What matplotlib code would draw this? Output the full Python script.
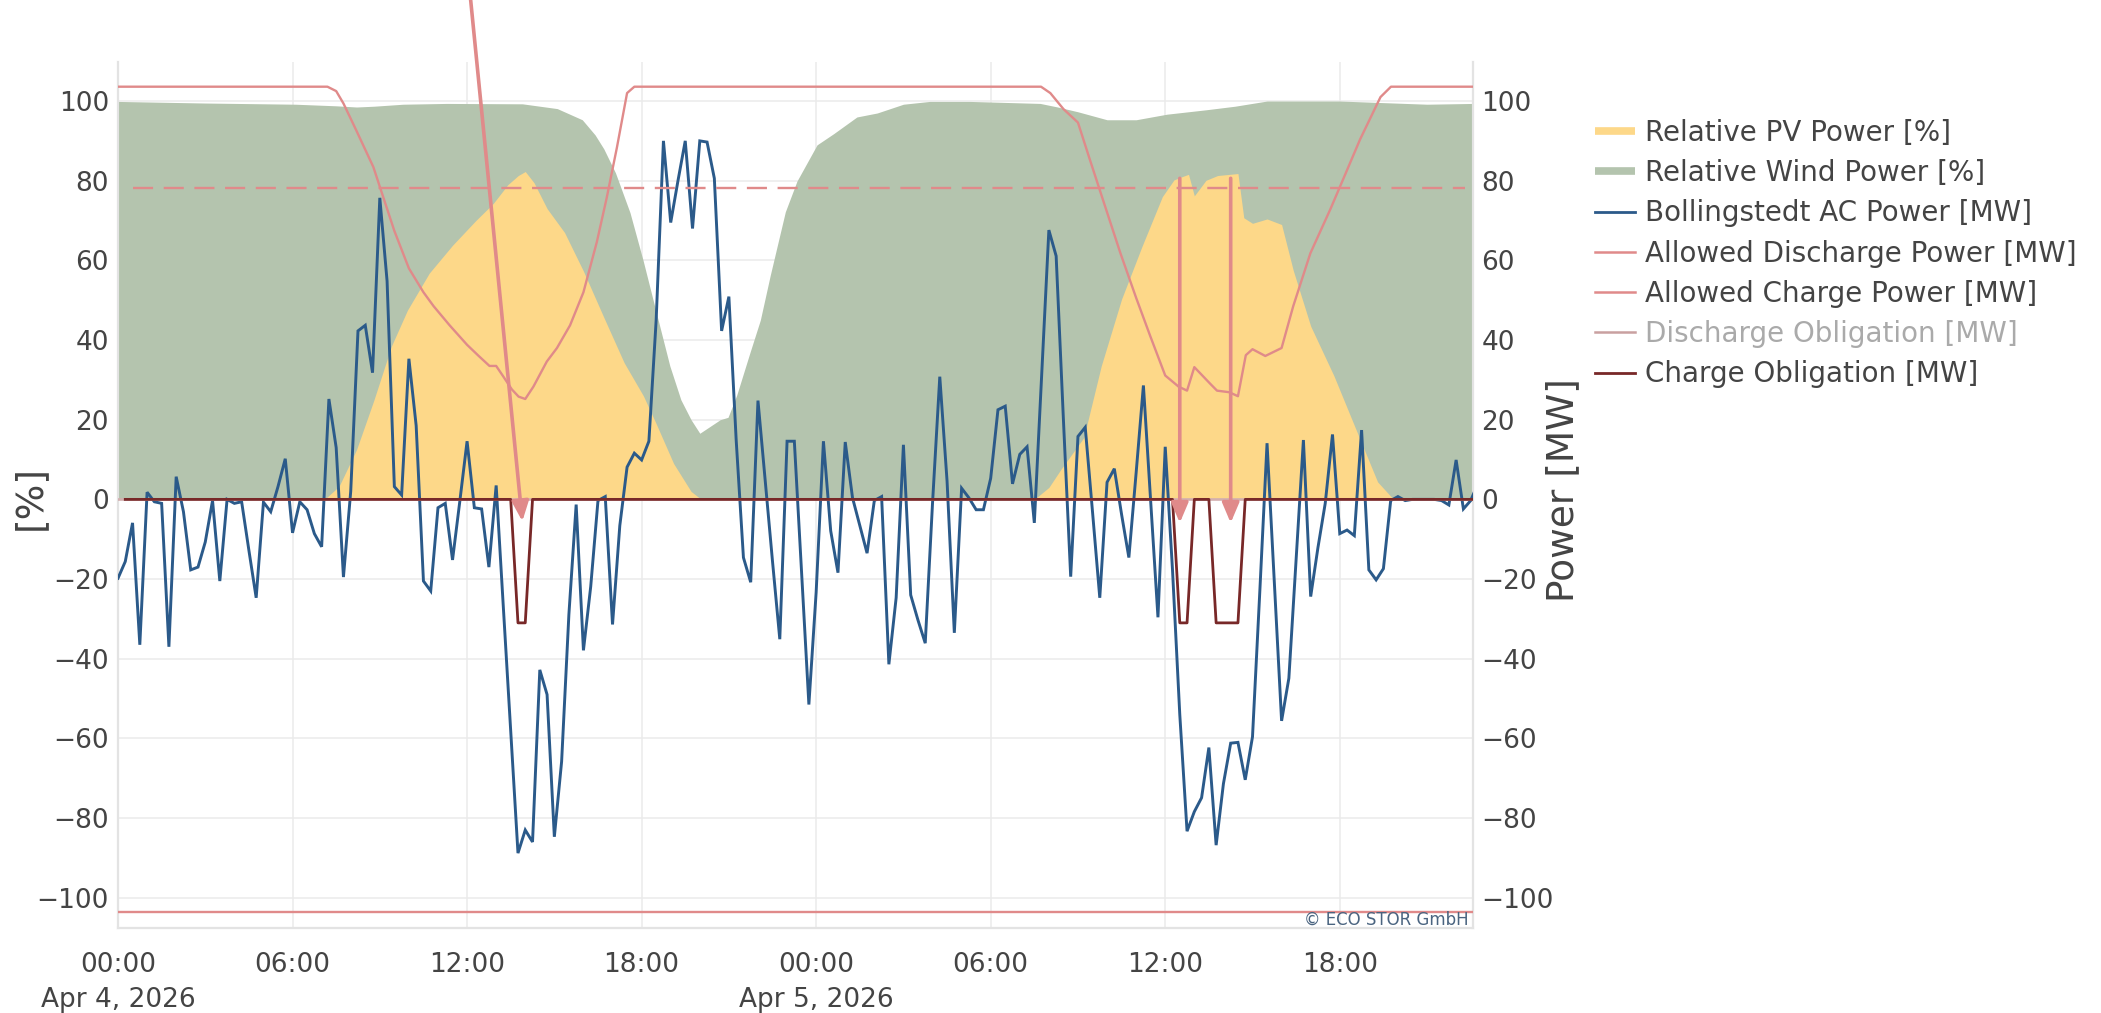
import matplotlib
matplotlib.use('Agg')
import matplotlib.pyplot as plt
from matplotlib.lines import Line2D
import numpy as np

plt.rcParams['font.family'] = ['DejaVu Sans']

# ---------------- data (hours since Apr 4, 2026 00:00) ----------------
ac_step_h = 0.25
ac_power_mw = [
    -19.8, -15.6, -5.9, -36.5,   1.8, -0.6, -1.0, -37.0,   5.7, -3.1, -17.7, -17.0,
    -10.7, -0.3, -20.5, 0.0,    -1.0, -0.6, -12.8, -24.7,  -0.7, -3.1, 3.2, 10.2,
    -8.4, -0.6, -2.6, -8.6,     -11.9, 25.2, 13.0, -19.5,  2.0, 42.3, 43.7, 31.8,
    75.7, 54.8, 3.2, 1.1,       35.3, 18.5, -20.5, -23.0,  -2.1, -1.0, -15.2, -0.5,
    14.6, -2.1, -2.4, -17.0,    3.5, -27.5, -58.0, -88.8,  -83.0, -86.0, -42.8, -49.0,
    -84.7, -65.8, -28.9, -1.3,  -37.9, -21.9, -0.3, 0.7,   -31.4, -6.6, 8.1, 11.6,
    9.9, 14.6, 45.0, 90.0,      69.5, 80.0, 90.0, 68.0,    90.0, 89.7, 80.6, 42.3,
    50.9, 15.0, -14.6, -20.8,   24.8, 4.6, -15.6, -35.1,   14.6, 14.6, -18.4, -51.5,
    -23.3, 14.6, -7.9, -18.4,   14.4, 0.4, -6.6, -13.5,    -0.3, 0.7, -41.4, -24.7,
    13.7, -24.0, -30.3, -36.1,  -1.0, 30.8, 4.6, -33.5,    2.8, 0.4, -2.6, -2.6,
    5.3, 22.5, 23.4, 3.9,       11.3, 13.2, -5.9, 31.0,    67.6, 61.1, 20.0, -19.4,
    15.8, 18.1, -3.1, -24.7,    4.3, 7.7, -3.8, -14.6,     6.7, 28.6, -0.3, -29.6,
    13.2, -17.7, -54.0, -83.3,  -78.4, -74.9, -62.3, -86.8, -71.4, -61.2, -61.0, -70.4,
    -59.6, -23.3, 14.1, -20.8,  -55.6, -44.9, -15.0, 14.9, -24.4, -12.1, -1.0, 16.3,
    -8.6, -7.7, -9.1, 17.4,     -17.7, -20.2, -17.4, -0.3, 0.7, -0.3, 0.0, 0.0,
    0.0, 0.0, -0.3, -1.4,       9.9, -2.4, -0.3, 4.0,
]

wind_h = [0, 3.0, 6.1, 7.5, 8.2, 8.8, 9.8, 11.3, 13.9, 15.1, 15.96, 16.4, 16.7, 17.1,
          17.6, 18.05, 18.5, 18.97, 19.35, 19.7, 20.0, 20.7, 20.97, 21.27, 21.73, 22.08,
          22.42, 22.94, 23.34, 24.03, 24.6, 25.4, 26.1, 27.0, 27.9, 29.3, 31.7, 32.3,
          33.0, 34.0, 35.0, 36.06, 37.4, 38.4, 39.5, 42.0, 45.0, 46.6]
wind_pct = [99.9, 99.5, 99.2, 98.8, 98.5, 98.7, 99.2, 99.4, 99.3, 98.1, 95.3, 91.5, 88, 82,
            72, 60, 47, 33.5, 25, 20, 16.6, 20, 20.6, 26.2, 37, 45,
            56.2, 72.2, 79.9, 89, 91.8, 96, 97, 99.2, 99.9, 99.9, 99.4, 98.5,
            97.3, 95.3, 95.3, 96.7, 97.8, 98.7, 100, 100, 99.2, 99.4]

pv_h = [0, 7.1, 7.6, 8.2, 8.8, 9.4, 9.95, 10.7, 11.5, 12.3, 12.9, 13.4, 13.76, 14.0, 14.3,
        14.75, 15.35, 16.0, 16.7, 17.4, 18.06, 18.5, 19.1, 19.7, 20.0, 20.3,
        31.5, 32.0, 32.4, 33.2, 33.8, 34.5, 35.2, 35.9, 36.3, 36.5, 36.8, 37.0, 37.4,
        37.8, 38.5, 38.7, 39.0, 39.5, 40.0, 40.4, 41.0, 41.8, 42.7, 43.3, 43.8, 44.0, 46.6]
pv_pct = [0, 0, 3.3, 12.5, 25, 38.5, 47.5, 56.8, 63.8, 70, 74.3, 79, 81.3, 82.3, 79.5,
          73, 67, 57.3, 45.7, 34.3, 26, 19, 9, 2, 0.3, 0,
          0, 3, 7.4, 15.5, 33.5, 50.3, 63.5, 76, 80.2, 80.8, 81.6, 76.2, 80.1,
          81.3, 81.8, 70.7, 69.3, 70.4, 69, 57.5, 43.5, 31, 15, 4.4, 0.4, 0, 0]

allowed_dis_h = [0, 7.2, 7.5, 7.75, 8.2, 8.78, 9.0, 9.5, 10.0, 10.5, 10.85, 11.4, 12.0,
                 12.4, 12.77, 13.0, 13.25, 13.54, 13.77, 14.0, 14.28, 14.74, 15.09, 15.54,
                 16.0, 16.46, 16.8, 17.15, 17.5, 17.75, 31.73, 32.05, 32.5, 33.0, 33.4,
                 33.9, 34.46, 35.0, 35.49, 36.0, 36.46, 36.75, 37.0, 37.55, 37.78, 38.2,
                 38.5, 38.77, 39.0, 39.44, 40.0, 40.4, 40.99, 41.68, 42.13, 42.7, 43.4,
                 43.76, 46.6]
allowed_dis_mw = [103.6, 103.6, 102.5, 99.4, 92.5, 83.4, 78.5, 67.4, 58, 52, 48.5, 43.7, 38.8,
                  36, 33.5, 33.5, 30.8, 27.6, 25.8, 25.2, 28.3, 34.6, 38, 43.7,
                  52, 64.6, 75.7, 88.3, 102, 103.6, 103.6, 102, 98, 94.6, 85.5,
                  74.3, 61.8, 50.6, 40.9, 31.1, 28.3, 27.3, 33.2, 29, 27.3, 26.9,
                  25.9, 36.2, 37.7, 36, 38, 48.5, 61.8, 72.9, 80.6, 90.4, 101,
                  103.6, 103.6]

allowed_charge_h = [0, 46.6]
allowed_charge_mw = [-103.5, -103.5]

limit_h = [0.5, 46.3]
limit_mw = [78.2, 78.2]

dis_obl_h = [0, 46.6]
dis_obl_mw = [0, 0]

chg_obl_h = [0.25, 13.5, 13.75, 14.0, 14.25, 36.25, 36.5, 36.75, 37.0, 37.5, 37.75, 38.5, 38.75, 46.6]
chg_obl_mw = [0, 0, -31, -31, 0, 0, -31, -31, 0, 0, -31, -31, 0, 0]

# arrows: (tail_h, tail_mw, tip_h, tip_mw)
arrows = [(12.06, 130.0, 13.9, -5.5),
          (36.5, 80.6, 36.5, -5.9),
          (38.25, 80.6, 38.25, -5.9)]

x_tick_hours = [0, 6, 12, 18, 24, 30, 36, 42]
x_tick_labels = ['00:00\nApr 4, 2026', '06:00', '12:00', '18:00',
                 '00:00\nApr 5, 2026', '06:00', '12:00', '18:00']
y_ticks = [-100, -80, -60, -40, -20, 0, 20, 40, 60, 80, 100]

legend_labels = ['Relative PV Power [%]', 'Relative Wind Power [%]',
                 'Bollingstedt AC Power [MW]', 'Allowed Discharge Power [MW]',
                 'Allowed Charge Power [MW]', 'Discharge Obligation [MW]',
                 'Charge Obligation [MW]']

# ---------------- style ----------------
C_PV = '#fdd889'
C_WIND = '#b4c4ae'
C_BLUE = '#2b5a8a'
C_PINK = '#e08a8a'
C_DOBL = '#d2afaf'
C_COBL = '#782828'
C_TXT = '#444444'
C_GRID = '#ebebeb'

W, H = 2101, 1013
fig = plt.figure(figsize=(W / 100, H / 100), dpi=100)
L, R, T, B = 118, 1473, 62, 928
ax = fig.add_axes([L / W, 1 - B / H, (R - L) / W, (B - T) / H])
ax2 = ax.twinx()

xlim = (0, 46.58)
ylim = (-107.6, 109.8)

ac_h = np.arange(len(ac_power_mw)) * ac_step_h

ax.fill_between(wind_h, 0, wind_pct, color=C_WIND, lw=0, zorder=2)
ax.fill_between(pv_h, 0, pv_pct, color=C_PV, lw=0, zorder=3)

ax2.plot(ac_h, ac_power_mw, color=C_BLUE, lw=2.1, zorder=3, solid_joinstyle='miter')
ax2.plot(allowed_dis_h, allowed_dis_mw, color=C_PINK, lw=1.7, zorder=4)
ax2.plot(allowed_charge_h, allowed_charge_mw, color=C_PINK, lw=1.7, zorder=4)
ax2.plot(limit_h, limit_mw, color=C_PINK, lw=1.7, zorder=4, dashes=(8.5, 4.5))
ax2.plot(dis_obl_h, dis_obl_mw, color=C_DOBL, lw=1.9, zorder=5)
ax2.plot(chg_obl_h, chg_obl_mw, color=C_COBL, lw=2.0, zorder=6)

for th, tv, hh, hv in arrows:
    ax2.annotate('', xy=(hh, hv), xytext=(th, tv), annotation_clip=False,
                 arrowprops=dict(arrowstyle='-|>,head_length=0.4,head_width=0.17',
                                 mutation_scale=30, lw=2.6, color=C_PINK,
                                 shrinkA=0, shrinkB=0, clip_on=False),
                 zorder=10)

for a in (ax, ax2):
    a.set_xlim(*xlim)
    a.set_ylim(*ylim)
    a.set_yticks(y_ticks)
    for s in a.spines.values():
        s.set_color('#e3e3e3')
        s.set_linewidth(1.5)
    a.spines['top'].set_visible(False)

ax.set_xticks(x_tick_hours)
ax.set_xticklabels(x_tick_labels, fontsize=19, color=C_TXT, linespacing=1.45)
ax.tick_params(axis='x', length=0, pad=17)
ax.tick_params(axis='y', length=0, pad=6.5, labelsize=19, labelcolor=C_TXT)
ax2.tick_params(axis='y', length=0, pad=6, labelsize=19, labelcolor=C_TXT)
ax.set_axisbelow(True)
ax.grid(True, color=C_GRID, lw=1.1, zorder=0)

fig.text(30 / W, 1 - 497 / H, '[%]', rotation=90, ha='center', va='center',
         fontsize=27, color=C_TXT)
fig.text(1563 / W, 1 - 490 / H, 'Power [MW]', rotation=90, ha='center', va='center',
         fontsize=27, color=C_TXT)

ax2.text(0.997, 0.004, '\u00a9 ECO STOR GmbH', transform=ax2.transAxes, ha='right',
         va='baseline', fontsize=12, color='#4a6480', zorder=12)

handles = [Line2D([], [], color=C_PV, lw=5.5, solid_capstyle='butt'),
           Line2D([], [], color=C_WIND, lw=5.5, solid_capstyle='butt'),
           Line2D([], [], color=C_BLUE, lw=2.0),
           Line2D([], [], color=C_PINK, lw=1.8),
           Line2D([], [], color=C_PINK, lw=1.8),
           Line2D([], [], color='#c9a0a0', lw=1.8),
           Line2D([], [], color=C_COBL, lw=2.0)]
leg = fig.legend(handles, legend_labels, loc='upper left',
                 bbox_to_anchor=(1595 / W, 1 - 119 / H), frameon=False,
                 fontsize=20, handlelength=1.44, handletextpad=0.36,
                 labelspacing=0.44, borderpad=0, borderaxespad=0)
for i, t in enumerate(leg.get_texts()):
    t.set_color('#aaaaaa' if i == 5 else C_TXT)

fig.savefig('out.png', dpi=100, facecolor='white')
